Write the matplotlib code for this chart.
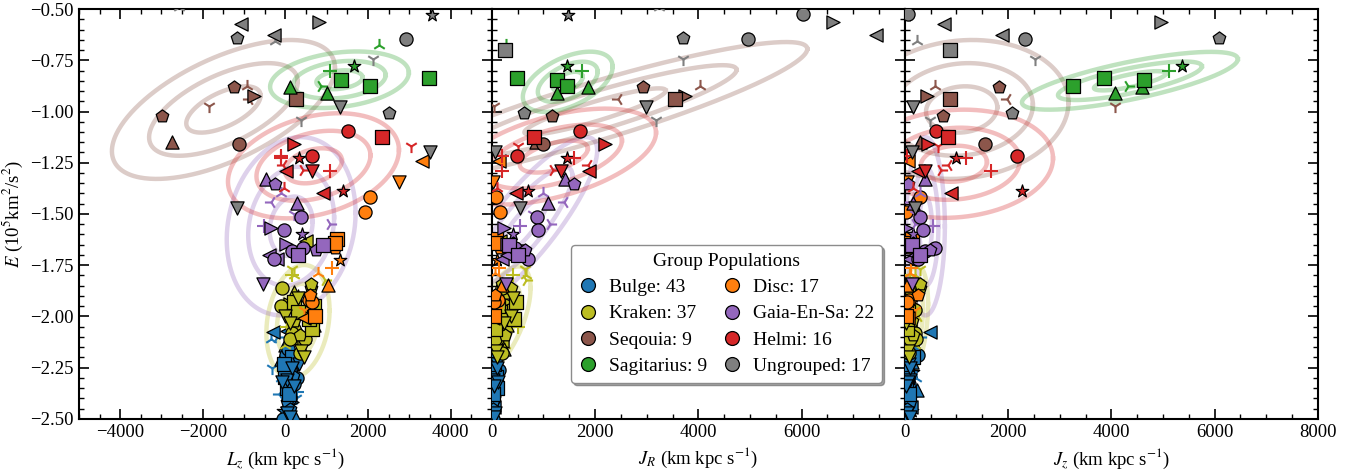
import numpy as np
import matplotlib
matplotlib.use('Agg')
import matplotlib.pyplot as plt
from matplotlib.lines import Line2D
from matplotlib.ticker import MultipleLocator

plt.rcParams['font.family'] = ['Liberation Serif', 'DejaVu Serif']
plt.rcParams['mathtext.fontset'] = 'stix'
plt.rcParams['font.size'] = 13.5

# --- star data per group: marker, Lz, JR, Jz, E (1e5 km^2/s^2) ---
bulge_mk = "<<2o^v1^osvsopvo+4*^vos3>p<v^os+12ov>^sp*ov"
bulge_lz = [-310, 50, -340, 20, -100, 340, -320, 170, 290, 0, 50, 50, 200, 50, 50, -50, 280, -200, 150, 100,
            150, 100, 150, -150, 0, 120, 30, -80, 200, 60, -30, 100, 250, -100, 120, 200, 150, -20, 80, 180,
            -50, 30, 100]
bulge_jr = [60, 30, 80, 50, 20, 90, 40, 60, 30, 80, 20, 100, 50, 30, 60, 20, 70, 40, 50, 40,
            100, 30, 60, 30, 80, 20, 50, 120, 30, 90, 50, 20, 60, 60, 140, 40, 30, 100, 30, 70,
            40, 20, 50]
bulge_jz = [480, 100, 150, 250, 60, 80, 100, 130, 60, 40, 100, 30, 80, 100, 50, 40, 200, 300, 150, 230,
            100, 20, 150, 80, 30, 50, 120, 60, 40, 160, 20, 80, 170, 220, 40, 20, 60, 100, 90, 40,
            130, 20, 100]
bulge_e = [-2.077, -2.07, -2.11, -2.19, -2.21, -2.23, -2.25, -2.22, -2.30, -2.295, -2.31, -2.35, -2.33, -2.42,
           -2.47, -2.50, -2.37, -2.10, -2.27, -2.36, -2.25, -2.40, -2.20, -2.38, -2.28, -2.45, -2.44, -2.32,
           -2.48, -2.16, -2.23, -2.18, -2.40, -2.30, -2.26, -2.34, -2.42, -2.14, -2.38, -2.29, -2.46, -2.36, -2.49]

kraken_mk = "o^ps2+vvopooss^v4<po1s^>v*3+os<p>^v2o"
kraken_lz = [-70, 220, 630, 220, 220, 150, 0, 100, 170, 360, 480, 100, 650, 580, 390, 390, 950, 500, 630, -100,
             170, 300, 250, 100, 450, 300, 600, 50, 550, 700, 250, 200, 450, 700, 300, 0, 350]
kraken_jr = [190, 300, 370, 460, 660, 400, 370, 230, 150, 250, 100, 60, 70, 420, 230, 80, 660, 150, 200, 120,
             640, 150, 120, 350, 90, 180, 250, 500, 350, 120, 200, 100, 60, 300, 400, 250, 200]
kraken_jz = [250, 100, 290, 40, 190, 100, 60, 30, 190, 150, 220, 100, 40, 40, 40, 60, 250, 30, 290, 80,
             290, 60, 30, 120, 80, 150, 250, 100, 200, 30, 20, 130, 100, 60, 120, 200, 80]
kraken_e = [-1.86, -1.88, -1.86, -1.93, -1.80, -1.80, -2.00, -2.03, -2.08, -2.09, -2.11, -2.11, -2.06, -2.015,
            -2.16, -2.17, -1.82, -1.63, -1.84, -1.95, -1.77, -1.98, -2.04, -1.94, -2.20, -1.90, -2.00, -2.05,
            -1.97, -1.95, -2.12, -2.02, -2.13, -2.04, -1.91, -2.14, -2.18]

disc_mk = "<voosp*+^pos<1os2"
disc_lz = [3320, 2740, 2040, 1940, 1260, 1190, 1330, 1120, 1040, 600, 580, 720, 460, 460, 650, 1200, 800]
disc_jr = [140, 20, 80, 150, 80, 150, 100, 140, 200, 60, 120, 40, 30, 100, 50, 60, 60]
disc_jz = [60, 40, 290, 20, 130, 100, 200, 120, 50, 250, 80, 30, 60, 200, 40, 20, 100]
disc_e = [-1.24, -1.345, -1.415, -1.49, -1.62, -1.665, -1.725, -1.765, -1.845, -1.895, -1.92, -2.00, -2.01,
          -1.97, -1.93, -1.64, -1.79]

gaia_mk = "^p3^o+>o4>oospo<v*12s<"
gaia_lz = [-460, -240, -340, 270, 390, -510, -340, -25, 1070, 25, 170, 415, 900, 750, -270, -200, -530, 400,
           200, -100, 300, -400]
gaia_jr = [1410, 1590, 1390, 1080, 870, 540, 230, 890, 1120, 300, 580, 450, 330, 650, 700, 200, 270, 400,
           800, 1000, 500, 300]
gaia_jz = [390, 60, 100, 150, 290, 540, 20, 350, 200, 100, 390, 580, 130, 480, 250, 80, 130, 150, 200, 300,
           300, 200]
gaia_e = [-1.33, -1.355, -1.44, -1.445, -1.515, -1.56, -1.57, -1.58, -1.55, -1.645, -1.68, -1.665, -1.65,
          -1.675, -1.72, -1.72, -1.84, -1.60, -1.50, -1.40, -1.70, -1.70]

seq_mk = "pp^o>s213"
seq_lz = [-1240, -2980, -2740, -1115, -750, 265, -920, -1840, -870]
seq_jr = [2920, 1160, 850, 990, 3740, 3540, 4040, 40, 2440]
seq_jz = [1820, 740, 290, 1550, 430, 870, 580, 4070, 1980]
seq_e = [-0.88, -1.02, -1.15, -1.16, -0.925, -0.94, -0.875, -0.975, -0.94]

helmi_mk = "os1>++3*o<4v+<*2"
helmi_lz = [1510, 2350, 3030, 220, -100, -100, -50, 340, 655, 20, 415, 655, 1070, 900, 1390, -30]
helmi_jr = [1700, 820, 500, 2190, 1590, 190, 1860, 1450, 480, 1880, 1180, 1340, 190, 460, 700, 100]
helmi_jz = [600, 830, 640, 450, 1180, 50, 830, 990, 2170, 250, 700, 390, 1670, 890, 2270, 150]
helmi_e = [-1.095, -1.125, -1.17, -1.16, -1.225, -1.215, -1.26, -1.225, -1.215, -1.29, -1.285, -1.29, -1.29,
           -1.40, -1.39, -1.375]

sag_mk = "*+24sss^^"
sag_lz = [1650, 1070, 2260, 870, 3470, 1350, 2050, 100, 1020]
sag_jr = [1450, 1740, 270, 1500, 480, 1260, 1450, 1860, 1260]
sag_jz = [5370, 5120, 8500, 4320, 3860, 4640, 3260, 4590, 4070]
sag_e = [-0.78, -0.80, -0.675, -0.875, -0.835, -0.845, -0.875, -0.88, -0.91]

ungr_mk = "<p<>*o12vp1vvos2o"
ungr_lz = [-1067, -1160, -267, 824, 3560, 2930, 2110, -250, 1330, 2500, 380, 3490, -1170, 5400, -5500, -2570, 6000]
ungr_jr = [8500, 3700, 7450, 6600, 1470, 4970, 3700, 8500, 2980, 620, 3170, 60, 540, 6020, 250, 3230, 9000]
ungr_jz = [760, 6090, 1880, 4960, 30, 2330, 2520, 230, 160, 2070, 480, 130, 200, 60, 870, 8500, 9000]
ungr_e = [-0.572, -0.64, -0.625, -0.565, -0.528, -0.645, -0.743, -0.655, -0.977, -1.007, -1.04, -1.20, -1.47,
          -0.523, -0.70, -0.49, -0.40]

# Gaussian contour parameters per panel: (mean x, mean E, sigma x, sigma E, rho)
seq_ell = [(-1500, -0.99, 900, 0.113, 0.6), (2000, -1.0, 1370, 0.113, 0.9), (1100, -0.99, 690, 0.113, 0.1)]
sag_ell = [(1310, -0.845, 560, 0.046, 0.25), (1470, -0.855, 290, 0.049, 0.5), (4360, -0.85, 697, 0.047, 0.75)]
helmi_ell = [(680, -1.265, 690, 0.0855, 0.3), (1200, -1.22, 660, 0.078, 0.5), (950, -1.255, 640, 0.088, 0.1)]
gaia_ell = [(140, -1.56, 520, 0.145, 0.15), (600, -1.56, 480, 0.145, 0.85), (400, -1.56, 125, 0.145, 0.0)]
kraken_ell = [(305, -2.025, 255, 0.092, 0.2), (150, -2.02, 200, 0.088, 0.6), (150, -2.02, 100, 0.09, 0.3)]

groups = [
    ('Bulge', 'tab:blue', bulge_mk, bulge_lz, bulge_jr, bulge_jz, bulge_e, None),
    ('Kraken', 'tab:olive', kraken_mk, kraken_lz, kraken_jr, kraken_jz, kraken_e, kraken_ell),
    ('Disc', 'tab:orange', disc_mk, disc_lz, disc_jr, disc_jz, disc_e, None),
    ('Gaia-En-Sa', 'tab:purple', gaia_mk, gaia_lz, gaia_jr, gaia_jz, gaia_e, gaia_ell),
    ('Seqouia', 'tab:brown', seq_mk, seq_lz, seq_jr, seq_jz, seq_e, seq_ell),
    ('Helmi', 'tab:red', helmi_mk, helmi_lz, helmi_jr, helmi_jz, helmi_e, helmi_ell),
    ('Sagitarius', 'tab:green', sag_mk, sag_lz, sag_jr, sag_jz, sag_e, sag_ell),
    ('Ungrouped', 'tab:gray', ungr_mk, ungr_lz, ungr_jr, ungr_jz, ungr_e, None),
]
legend_order = ['Bulge', 'Kraken', 'Seqouia', 'Sagitarius', 'Disc', 'Gaia-En-Sa', 'Helmi', 'Ungrouped']


def draw_ellipses(ax, p, color):
    mx, my, sx, sy, rho = p
    t = np.linspace(0, 2 * np.pi, 300)
    for k in (1, 2, 3):
        x = mx + k * sx * np.cos(t)
        y = my + k * sy * (rho * np.cos(t) + np.sqrt(1 - rho ** 2) * np.sin(t))
        ax.plot(x, y, color=color, lw=3.2, alpha=0.3, zorder=1)


fig, axes = plt.subplots(1, 3, figsize=(13.6, 4.76), dpi=100, sharey=True)
plt.subplots_adjust(left=0.058, right=0.969, top=0.981, bottom=0.12, wspace=0)

for gi, (name, color, mk, lz, jr, jz, e, ell) in enumerate(groups):
    e = np.array(e)
    for pi, xs in enumerate([lz, jr, jz]):
        ax = axes[pi]
        xs = np.array(xs)
        if ell is not None:
            draw_ellipses(ax, ell[pi], color)
        for m in sorted(set(mk)):
            idx = [i for i, c in enumerate(mk) if c == m]
            if m in '+1234':
                ax.scatter(xs[idx], e[idx], marker=m, color=color, s=90, linewidths=1.5, zorder=3 + gi)
            else:
                ax.scatter(xs[idx], e[idx], marker=m, facecolor=color, edgecolor='k', s=90,
                           linewidths=0.9, zorder=3 + gi)

axes[0].set_xlim(-5000, 5000)
axes[1].set_xlim(0, 8000)
axes[2].set_xlim(0, 8000)
axes[0].set_ylim(-2.5, -0.5)
axes[0].set_xticks([-4000, -2000, 0, 2000, 4000])
axes[1].set_xticks([0, 2000, 4000, 6000])
axes[2].set_xticks([0, 2000, 4000, 6000, 8000])
axes[0].yaxis.set_major_locator(MultipleLocator(0.25))
axes[0].yaxis.set_minor_locator(MultipleLocator(0.05))

for ax in axes:
    ax.xaxis.set_minor_locator(MultipleLocator(500))
    ax.tick_params(which='both', direction='in', top=True, right=True)
    ax.tick_params(which='major', length=7, width=1.2)
    ax.tick_params(which='minor', length=3.5, width=1.0)
    for sp in ax.spines.values():
        sp.set_linewidth(1.5)

axes[0].set_xlabel(r'$L_z$ (km kpc s$^{-1}$)')
axes[1].set_xlabel(r'$J_R$ (km kpc s$^{-1}$)')
axes[2].set_xlabel(r'$J_z$ (km kpc s$^{-1}$)')
axes[0].set_ylabel(r'$E$ (10$^5$km$^2$/s$^2$)')

lookup = {g[0]: g for g in groups}
handles = []
for name in legend_order:
    g = lookup[name]
    handles.append(Line2D([], [], ls='none', marker='o', markersize=10, markerfacecolor=g[1],
                          markeredgecolor='k', markeredgewidth=0.9, label=f'{name}: {len(g[6])}'))
leg = axes[1].legend(handles=handles, title='Group Populations', ncol=2, loc='lower right',
                     bbox_to_anchor=(0.944, 0.088), borderaxespad=0, fancybox=True, shadow=True,
                     framealpha=1, edgecolor='0.55', handletextpad=0.55, columnspacing=0.8,
                     labelspacing=0.45, handlelength=1.0, borderpad=0.4, fontsize=14, title_fontsize=14)
leg.set_zorder(20)

plt.savefig('out.png', dpi=100)
